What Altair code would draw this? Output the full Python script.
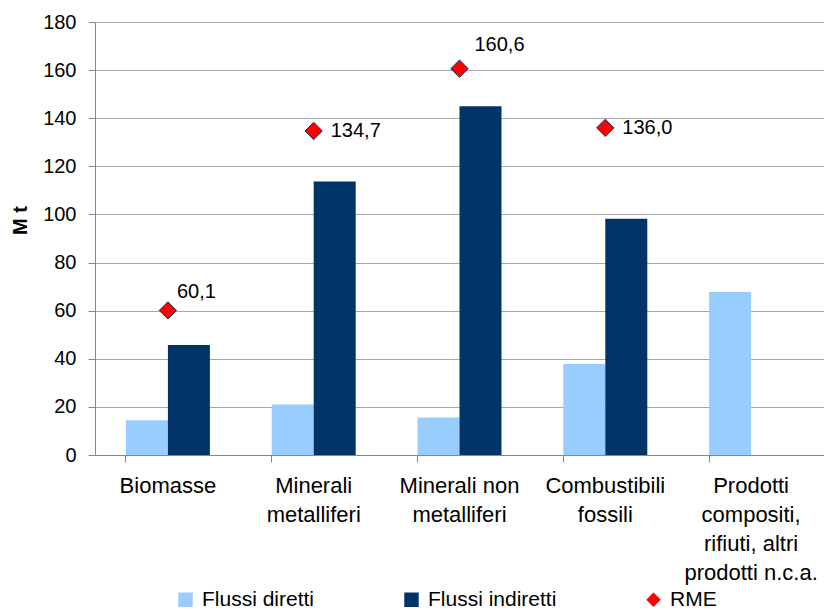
import altair as alt
import pandas as pd

# Categories (each entry lists the lines of its axis label)
category_lines = [
    ["Biomasse"],
    ["Minerali", "metalliferi"],
    ["Minerali non", "metalliferi"],
    ["Combustibili", "fossili"],
    ["Prodotti", "compositi,", "rifiuti, altri", "prodotti n.c.a."],
]
categories = ["\n".join(lines) for lines in category_lines]

series_names = ["Flussi diretti", "Flussi indiretti", "RME"]

# Values in million tonnes
flussi_diretti = [14.4, 21.0, 15.6, 37.8, 67.8]
flussi_indiretti = [45.7, 113.7, 145.0, 98.2, None]
rme = [60.1, 134.7, 160.6, 136.0, None]

bars_df = pd.DataFrame(
    [{"categoria": c, "serie": series_names[0], "valore": v} for c, v in zip(categories, flussi_diretti)]
    + [{"categoria": c, "serie": series_names[1], "valore": v} for c, v in zip(categories, flussi_indiretti)]
)
rme_df = pd.DataFrame({"categoria": categories, "serie": series_names[2], "valore": rme}).dropna()

FONT = "Liberation Sans"
color_scale = alt.Scale(domain=series_names, range=["#99ccff", "#003366", "#ff0000"])
shape_scale = alt.Scale(domain=series_names, range=["square", "square", "diamond"])

legend = alt.Legend(
    title=None,
    orient="none",
    direction="horizontal",
    legendX=80,
    legendY=567,
    padding=0,
    labelFontSize=21,
    labelFont=FONT,
    labelColor="#000000",
    labelOffset=6,
    symbolSize=210,
    columnPadding=86,
    symbolStrokeWidth=0,
    symbolOpacity=1,
)

x_enc = alt.X(
    "categoria:N",
    sort=categories,
    title=None,
    scale=alt.Scale(paddingInner=0.424, paddingOuter=0.212),
    axis=alt.Axis(
        labelExpr="split(datum.label, '\\n')",
        labelAngle=0,
        labelFontSize=22,
        labelLineHeight=29,
        labelPadding=13,
        labelColor="#000000",
        tickSize=7,
        tickColor="#888888",
        domainColor="#888888",
        bandPosition=0,
        grid=False,
    ),
)
y_enc = alt.Y(
    "valore:Q",
    title="M t",
    scale=alt.Scale(domain=[0, 180], nice=False),
    axis=alt.Axis(
        values=list(range(0, 181, 20)),
        labelFontSize=20,
        labelPadding=12,
        labelColor="#000000",
        tickSize=7,
        tickColor="#888888",
        domainColor="#888888",
        gridColor="#a6a6a6",
        titleFontSize=20,
        titleFontWeight="bold",
        titleColor="#000000",
        titlePadding=12,
        titleY=198,
    ),
)

bars = alt.Chart(bars_df).mark_bar().encode(
    x=x_enc,
    xOffset=alt.XOffset(
        "serie:N",
        sort=series_names[:2],
        scale=alt.Scale(domain=series_names[:2], paddingInner=0, paddingOuter=0),
    ),
    y=y_enc,
    color=alt.Color("serie:N", scale=color_scale, legend=legend),
)

points = alt.Chart(rme_df).mark_point(filled=True, opacity=1, size=300, stroke="#003366", strokeWidth=1).encode(
    x=alt.X("categoria:N", sort=categories),
    y=alt.Y("valore:Q"),
    color=alt.Color("serie:N", scale=color_scale, legend=legend),
    shape=alt.Shape("serie:N", scale=shape_scale, legend=legend),
)


def value_labels(names, dx, dy):
    return (
        alt.Chart(rme_df)
        .transform_filter(alt.FieldOneOfPredicate(field="categoria", oneOf=names))
        .transform_calculate(etichetta="replace(format(datum.valore, '.1f'), '.', ',')")
        .mark_text(align="left", baseline="middle", dx=dx, dy=dy, fontSize=20, font=FONT, color="#000000")
        .encode(x=alt.X("categoria:N", sort=categories), y=alt.Y("valore:Q"), text="etichetta:N")
    )


labels = (
    value_labels([categories[0]], 9, -18)
    + value_labels([categories[2]], 15, -24)
    + value_labels([categories[1], categories[3]], 17, 0)
)

chart = (
    alt.layer(bars, points, labels)
    .properties(
        width=729,
        height=433,
        autosize=alt.AutoSizeParams(type="none"),
        padding={"left": 95, "top": 22, "right": 0, "bottom": 155},
        background="#ffffff",
    )
    .configure_view(stroke=None)
    .configure_axis(labelFont=FONT, titleFont=FONT)
    .configure_legend(labelFont=FONT)
)

chart.save("out.html", embed_options={"renderer": "svg", "actions": False})
